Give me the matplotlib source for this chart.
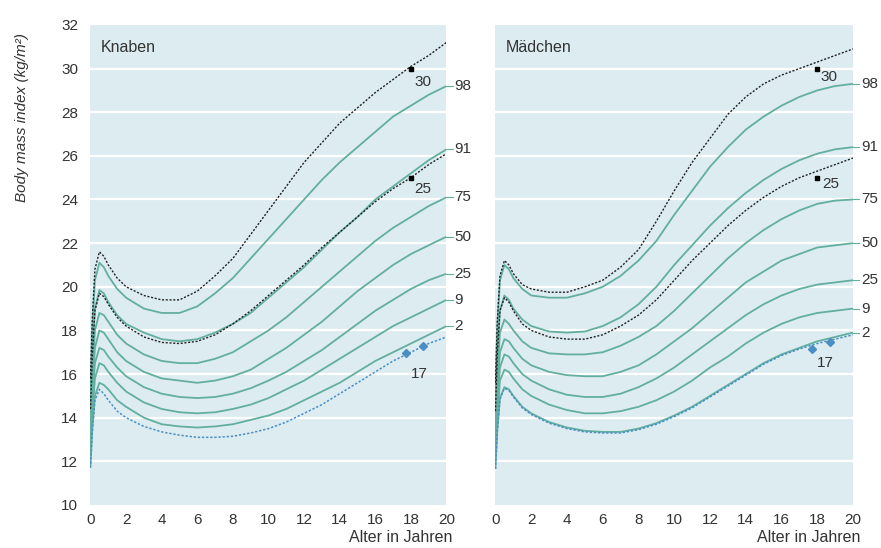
import matplotlib.pyplot as plt

plt.rcParams["font.family"] = ["Liberation Sans", "DejaVu Sans"]

# ages in years (sample points)
ages = [0, 0.1, 0.25, 0.5, 0.75, 1, 1.5, 2, 3, 4, 5, 6, 7, 8, 9, 10,
        11, 12, 13, 14, 15, 16, 17, 18, 19, 20]

centile_names = ["98", "91", "75", "50", "25", "9", "2"]
y_ticks = [10, 12, 14, 16, 18, 20, 22, 24, 26, 28, 30, 32]
x_ticks = [0, 2, 4, 6, 8, 10, 12, 14, 16, 18, 20]

# Knaben
boys_p98 = [15.2, 18.0, 20.3, 21.1, 20.9, 20.5, 19.9, 19.5, 19.0, 18.8, 18.8, 19.1, 19.7,
            20.4, 21.3, 22.2, 23.1, 24.0, 24.9, 25.7, 26.4, 27.1, 27.8, 28.3, 28.8, 29.2]
boys_p91 = [14.5, 16.9, 19.0, 19.85, 19.7, 19.3, 18.7, 18.3, 17.9, 17.6, 17.5, 17.6, 17.9,
            18.3, 18.8, 19.5, 20.2, 20.9, 21.7, 22.5, 23.2, 24.0, 24.6, 25.2, 25.8, 26.3]
boys_p75 = [13.9, 16.0, 18.0, 18.8, 18.7, 18.4, 17.8, 17.4, 16.9, 16.6, 16.5, 16.5, 16.7,
            17.0, 17.5, 18.0, 18.6, 19.3, 20.0, 20.7, 21.4, 22.1, 22.7, 23.2, 23.7, 24.1]
boys_p50 = [13.3, 15.3, 17.2, 18.0, 17.9, 17.6, 17.0, 16.6, 16.1, 15.8, 15.7, 15.6, 15.7,
            15.9, 16.2, 16.7, 17.2, 17.8, 18.4, 19.1, 19.8, 20.4, 21.0, 21.5, 21.9, 22.3]
boys_p25 = [12.8, 14.7, 16.5, 17.2, 17.1, 16.8, 16.3, 15.9, 15.4, 15.1, 14.95, 14.9, 14.95,
            15.1, 15.35, 15.7, 16.1, 16.6, 17.1, 17.7, 18.3, 18.9, 19.4, 19.9, 20.3, 20.6]
boys_p9 = [12.3, 14.1, 15.8, 16.5, 16.4, 16.1, 15.6, 15.2, 14.7, 14.4, 14.25, 14.2, 14.25,
           14.4, 14.6, 14.9, 15.3, 15.7, 16.2, 16.7, 17.2, 17.7, 18.2, 18.6, 19.0, 19.4]
boys_p2 = [11.8, 13.5, 15.0, 15.6, 15.5, 15.3, 14.8, 14.5, 14.0, 13.7, 13.6, 13.55, 13.6,
           13.7, 13.9, 14.1, 14.4, 14.8, 15.2, 15.6, 16.1, 16.6, 17.0, 17.4, 17.8, 18.2]
boys_bmi30 = [15.8, 18.5, 20.8, 21.6, 21.4, 21.0, 20.4, 20.0, 19.6, 19.4, 19.4, 19.8, 20.5,
              21.3, 22.4, 23.5, 24.6, 25.7, 26.6, 27.5, 28.2, 28.9, 29.5, 30.1, 30.6, 31.2]
boys_bmi25 = [14.4, 16.8, 18.9, 19.7, 19.55, 19.2, 18.6, 18.2, 17.7, 17.45, 17.4, 17.5, 17.8,
              18.3, 18.9, 19.6, 20.3, 21.0, 21.8, 22.5, 23.2, 23.9, 24.5, 25.0, 25.6, 26.1]
boys_bmi17 = [11.7, 13.3, 14.8, 15.3, 15.1, 14.8, 14.3, 14.0, 13.6, 13.35, 13.2, 13.1, 13.1,
              13.15, 13.3, 13.5, 13.8, 14.2, 14.6, 15.1, 15.6, 16.1, 16.6, 17.0, 17.4, 17.7]

# Mädchen
girls_p98 = [15.1, 18.1, 20.3, 21.0, 20.8, 20.4, 19.9, 19.6, 19.5, 19.5, 19.7, 20.0, 20.5,
             21.2, 22.1, 23.3, 24.4, 25.5, 26.4, 27.2, 27.8, 28.3, 28.7, 29.0, 29.2, 29.3]
girls_p91 = [14.2, 16.8, 18.9, 19.6, 19.4, 19.0, 18.5, 18.2, 17.95, 17.9, 17.95, 18.2, 18.6,
             19.2, 20.0, 21.0, 21.9, 22.8, 23.6, 24.3, 24.9, 25.4, 25.8, 26.1, 26.3, 26.4]
girls_p75 = [13.7, 16.0, 17.9, 18.5, 18.3, 18.0, 17.5, 17.2, 16.95, 16.9, 16.9, 17.0, 17.3,
             17.7, 18.2, 18.9, 19.7, 20.5, 21.3, 22.0, 22.6, 23.1, 23.5, 23.8, 23.95, 24.0]
girls_p50 = [13.1, 15.2, 17.0, 17.6, 17.5, 17.2, 16.7, 16.4, 16.1, 15.95, 15.9, 15.9, 16.1,
             16.4, 16.9, 17.5, 18.1, 18.8, 19.5, 20.2, 20.7, 21.2, 21.5, 21.8, 21.9, 22.0]
girls_p25 = [12.6, 14.6, 16.3, 16.9, 16.8, 16.5, 16.0, 15.7, 15.3, 15.05, 14.95, 14.95, 15.1,
             15.4, 15.8, 16.3, 16.9, 17.5, 18.1, 18.7, 19.2, 19.6, 19.9, 20.1, 20.2, 20.3]
girls_p9 = [12.1, 14.0, 15.7, 16.2, 16.1, 15.8, 15.3, 15.0, 14.6, 14.35, 14.2, 14.2, 14.3,
            14.5, 14.8, 15.2, 15.7, 16.3, 16.8, 17.4, 17.9, 18.3, 18.6, 18.8, 18.9, 19.0]
girls_p2 = [11.7, 13.4, 14.9, 15.4, 15.3, 15.0, 14.5, 14.2, 13.8, 13.55, 13.4, 13.35, 13.35,
            13.5, 13.75, 14.1, 14.5, 15.0, 15.5, 16.0, 16.5, 16.9, 17.2, 17.5, 17.7, 17.9]
girls_bmi30 = [15.6, 18.4, 20.5, 21.2, 21.0, 20.6, 20.1, 19.9, 19.75, 19.75, 20.0, 20.3, 20.9,
               21.7, 23.0, 24.4, 25.7, 26.8, 27.9, 28.7, 29.3, 29.7, 30.0, 30.3, 30.6, 30.9]
girls_bmi25 = [14.3, 16.9, 18.9, 19.5, 19.3, 18.9, 18.3, 18.0, 17.7, 17.6, 17.6, 17.8, 18.2,
               18.7, 19.4, 20.3, 21.2, 22.0, 22.8, 23.5, 24.1, 24.6, 25.0, 25.3, 25.6, 25.9]
girls_bmi17 = [11.65, 13.35, 14.85, 15.35, 15.25, 14.95, 14.45, 14.15, 13.75, 13.5, 13.35, 13.3,
               13.3, 13.45, 13.7, 14.05, 14.45, 14.95, 15.45, 15.95, 16.45, 16.85, 17.15, 17.4,
               17.6, 17.8]

# markers on the cut-off lines
dot_ages = [18, 18]
dot_vals = [30, 25]
blue_ages = [17.7, 18.7]
boys_blue_vals = [16.95, 17.3]
girls_blue_vals = [17.15, 17.45]

BG = "#ddecf1"
GREEN = "#62ae9f"
BLUE = "#4a8fc4"
TXT = "#333333"

fig = plt.figure(figsize=(8.81, 5.48), dpi=100)
ax_b = fig.add_axes([0.1027, 0.0785, 0.4041, 0.876])
ax_g = fig.add_axes([0.5624, 0.0785, 0.4058, 0.876])


def draw_panel(ax, title, centiles, cut30, cut25, cut17, blue_vals, lbl_pos, show_y):
    ax.set_facecolor(BG)
    for s in ax.spines.values():
        s.set_visible(False)
    for y in y_ticks[1:-1]:
        ax.axhline(y, color="white", lw=1.6, zorder=1)

    for vals in centiles:
        ax.plot(ages, vals, color=GREEN, lw=1.3, zorder=3, solid_joinstyle="round")
    ax.plot(ages, cut30, color="#222222", lw=1.0, ls=(0, (1.5, 1.2)), zorder=4)
    ax.plot(ages, cut25, color="#222222", lw=1.0, ls=(0, (1.5, 1.2)), zorder=4)
    ax.plot(ages, cut17, color=BLUE, lw=1.1, ls=(0, (1.5, 1.2)), zorder=4)
    ax.plot(dot_ages, dot_vals, "s", color="black", ms=3.5, zorder=5)
    ax.plot(blue_ages, blue_vals, "D", color=BLUE, ms=4, zorder=5)

    # labels at the end of the centile curves
    for name, vals in zip(centile_names, centiles):
        ax.plot([20, 20.35], [vals[-1], vals[-1]], color=GREEN, lw=0.8, clip_on=False)
        ax.text(20.45, vals[-1], name, fontsize=11, color=TXT, va="center",
                ha="left", clip_on=False)
    for txt, (x, y) in lbl_pos.items():
        ax.text(x, y, txt, fontsize=11, color=TXT, va="center", ha="left")

    ax.text(0.55, 30.95, title, fontsize=11.5, color=TXT, va="center", ha="left")

    ax.set_xlim(0, 20)
    ax.set_ylim(10, 32)
    ax.set_xticks(x_ticks)
    ax.set_yticks(y_ticks)
    ax.tick_params(length=0, labelsize=11, colors=TXT, pad=6)
    if not show_y:
        ax.set_yticklabels([])
    else:
        ax.tick_params(axis="y", pad=9)


draw_panel(ax_b, "Knaben",
           [boys_p98, boys_p91, boys_p75, boys_p50, boys_p25, boys_p9, boys_p2],
           boys_bmi30, boys_bmi25, boys_bmi17, boys_blue_vals,
           {"30": (18.2, 29.4), "25": (18.2, 24.5), "17": (18.0, 16.0)}, True)
draw_panel(ax_g, "Mädchen",
           [girls_p98, girls_p91, girls_p75, girls_p50, girls_p25, girls_p9, girls_p2],
           girls_bmi30, girls_bmi25, girls_bmi17, girls_blue_vals,
           {"30": (18.2, 29.6), "25": (18.3, 24.7), "17": (18.0, 16.5)}, False)

fig.text(452 / 881, 1 - 537 / 548, "Alter in Jahren", fontsize=11.5, color=TXT,
         ha="right", va="center")
fig.text(860 / 881, 1 - 537 / 548, "Alter in Jahren", fontsize=11.5, color=TXT,
         ha="right", va="center")
fig.text(22 / 881, 1 - 118 / 548, "Body mass index (kg/m²)", fontsize=11, color=TXT,
         rotation=90, style="italic", ha="center", va="center")

fig.savefig("out.png", dpi=100)
